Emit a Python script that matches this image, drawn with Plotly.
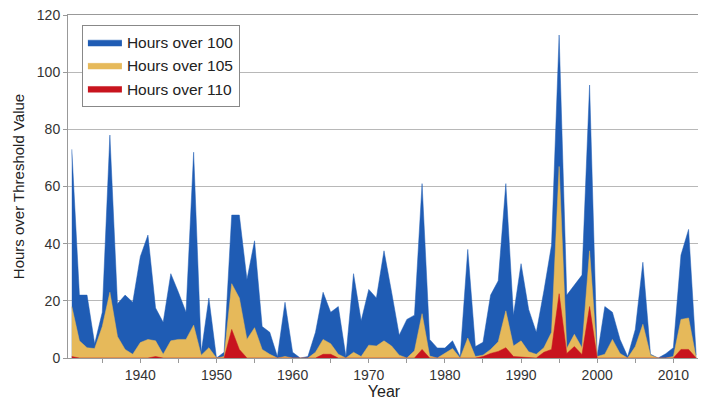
import plotly.graph_objects as go

years = list(range(1931, 2014))

hours_over_100 = [
    73, 22, 22, 5, 16, 78, 19, 22, 19.5, 35.5,
    43, 17.5, 12.5, 29.5, 23, 16, 72, 2, 21, 0,
    2, 50, 50, 27.5, 41, 11, 9, 0.5, 19.5, 2,
    0, 0.5, 9, 23, 16, 18, 0.5, 29.5, 13, 24,
    21, 37.5, 23, 8, 13.5, 15, 61, 6.5, 3.5, 3.5,
    6, 0.5, 38, 4, 5.5, 22, 27, 61, 15, 33,
    17, 9, 23.5, 39.5, 113, 22, 25.5, 29, 95.5, 0.7,
    18, 16, 6.5, 0.5, 10, 33.5, 1.3, 0, 1.5, 3.6,
    36, 45, 1,
]

hours_over_105 = [
    18, 6, 3.6, 3.3, 11, 23, 7.5, 3, 1.3, 5.4,
    6.5, 6, 1.3, 6, 6.5, 6.5, 11.5, 1, 3.6, 0,
    0.5, 26, 21, 6.5, 10.6, 3, 1.3, 0, 0.5, 0,
    0, 0, 2, 6.5, 5, 1.3, 0, 2, 0.5, 4.5,
    4.2, 6, 4.2, 1, 0, 2.5, 15.5, 0.7, 0, 1.5,
    3.3, 0, 7, 0.5, 1, 3, 5.7, 16.5, 4.2, 6,
    2.2, 1.3, 3.6, 9, 67, 3.3, 8.3, 3.6, 37.5, 0.5,
    1.3, 6.5, 1.6, 0, 4, 11.8, 1, 0, 0, 0.5,
    13.5, 14, 0,
]

hours_over_110 = [
    0.5, 0, 0, 0, 0, 0, 0, 0, 0, 0,
    0, 0.5, 0, 0, 0, 0, 0, 0, 0, 0,
    0, 10, 3, 0, 0, 0, 0, 0, 0, 0,
    0, 0, 0, 1.3, 1.3, 0, 0, 0, 0, 0,
    0, 0, 0, 0, 0, 0, 3, 0, 0, 0,
    0, 0, 0, 0, 0.5, 1.6, 2.3, 3.6, 0.5, 0.3,
    0, 0, 2, 3, 22.5, 1.6, 4, 1.2, 18, 0,
    0, 0, 0, 0, 0, 0, 0, 0, 0, 0,
    3, 3, 0,
]

x_tickvals = list(range(1935, 2015, 5))
x_ticktext = [str(v) if v % 10 == 0 else "" for v in x_tickvals]

series = [
    ("Hours over 100", hours_over_100, "#1f5cb4"),
    ("Hours over 105", hours_over_105, "#e6b95a"),
    ("Hours over 110", hours_over_110, "#c8141e"),
]

fig = go.Figure()
for name, vals, col in series:
    fig.add_trace(go.Scatter(
        x=years, y=vals, name=name, mode="lines",
        line=dict(color=col, width=0.5),
        fill="tozeroy", fillcolor=col,
    ))

font_family = "Liberation Sans, Arial, sans-serif"

# the page body adds an 8px offset, so the figure is sized to the visible area
fig.update_layout(
    width=698, height=398,
    margin=dict(l=60, r=6, t=7, b=48),
    paper_bgcolor="white", plot_bgcolor="white",
    font=dict(family=font_family, size=14, color="#222"),
    showlegend=True,
    legend=dict(
        x=0.022, y=0.972, xanchor="left", yanchor="top",
        bgcolor="white", bordercolor="#888", borderwidth=1,
        font=dict(size=15.5, color="#222"),
        tracegroupgap=0, itemwidth=34,
    ),
    xaxis=dict(
        range=[1930.5, 2013.5], automargin=False,
        tickmode="array", tickvals=x_tickvals, ticktext=x_ticktext,
        ticks="outside", ticklen=4, tickcolor="#999",
        showgrid=False, zeroline=False,
        showline=True, linecolor="#999", linewidth=1, mirror=True,
        title=dict(text="Year", font=dict(size=16), standoff=2),
        tickfont=dict(size=14, color="#333"),
        ticklabeloverflow="allow",
    ),
    yaxis=dict(
        range=[0, 120], automargin=False,
        tickvals=[0, 20, 40, 60, 80, 100, 120],
        ticks="outside", ticklen=4, tickcolor="#999",
        showgrid=True, gridcolor="#b8b8b8", gridwidth=1,
        zeroline=False,
        showline=True, linecolor="#999", linewidth=1, mirror=True,
        title=dict(text="Hours over Threshold Value", font=dict(size=15), standoff=8),
        tickfont=dict(size=14, color="#333"),
        ticklabeloverflow="allow",
    ),
)

fig.write_html("out.html")
